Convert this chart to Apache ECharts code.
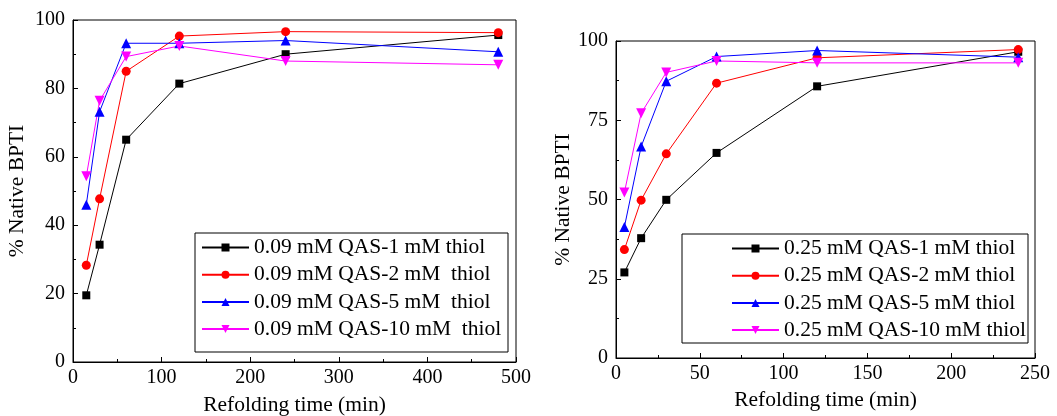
<!DOCTYPE html>
<html>
<head>
<meta charset="utf-8">
<script src="https://cdn.jsdelivr.net/npm/echarts@6/dist/echarts.min.js"></script>
<style>
  html, body { margin: 0; padding: 0; background: #fff; }
  #chart { width: 1057px; height: 416px; }
</style>
</head>
<body>
<div id="chart"></div>
<script>
  // 左图：0.09 mM QAS
  const timeA = [15, 30, 60, 120, 240, 480];
  const namesA = ['0.09 mM QAS-1 mM thiol', '0.09 mM QAS-2 mM  thiol', '0.09 mM QAS-5 mM  thiol', '0.09 mM QAS-10 mM  thiol'];
  const a1 = [19.5, 34.3, 65, 81.4, 90, 95.6];
  const a2 = [28.3, 47.7, 85, 95.3, 96.6, 96.3];
  const a5 = [46, 73.2, 93.2, 93.2, 94, 90.7];
  const a10 = [54.3, 76.4, 89.3, 92.4, 88, 86.9];

  // 右图：0.25 mM QAS
  const timeB = [5, 15, 30, 60, 120, 240];
  const namesB = ['0.25 mM QAS-1 mM thiol', '0.25 mM QAS-2 mM thiol', '0.25 mM QAS-5 mM thiol', '0.25 mM QAS-10 mM thiol'];
  const b1 = [27, 37.8, 49.9, 64.7, 85.7, 96.6];
  const b2 = [34.2, 49.8, 64.4, 86.7, 94.7, 97.3];
  const b5 = [41.3, 66.7, 87.3, 95.1, 97, 94.9];
  const b10 = [52.2, 77.2, 90.1, 93.7, 93.1, 93.1];

  const colors = ['#000000', '#ff0000', '#0000ff', '#ff00ff'];
  const symbols = ['rect', 'circle', 'triangle', 'path://M0,0 L10,0 L5,10 Z'];
  const sizes = [8, 9, 10, 10];
  const font = 'Liberation Serif, Times New Roman, serif';
  const titleSize = 21.5;

  const pair = (xs, ys) => xs.map((x, i) => [x, ys[i]]);

  function makeSeries(xs, sets, names, idx) {
    return sets.map((ys, i) => ({
      name: names[i],
      type: 'line',
      xAxisIndex: idx,
      yAxisIndex: idx,
      data: pair(xs, ys),
      symbol: symbols[i],
      symbolSize: sizes[i],
      color: colors[i],
      lineStyle: { width: 1, color: colors[i] },
      itemStyle: { color: colors[i] },
      animation: false,
    }));
  }

  function xAxis(idx, max, interval, gap) {
    return {
      type: 'value', gridIndex: idx, min: 0, max: max, interval: interval,
      name: 'Refolding time (min)', nameLocation: 'middle', nameGap: gap,
      nameTextStyle: { fontFamily: font, fontSize: titleSize, color: '#000' },
      axisLine: { show: true, lineStyle: { color: '#000', width: 1 } },
      axisTick: { inside: true, length: 5, lineStyle: { color: '#000' } },
      minorTick: { show: true, splitNumber: 2, length: 3, lineStyle: { color: '#000' } },
      axisLabel: { fontFamily: font, fontSize: 20, color: '#000', margin: 6 },
      splitLine: { show: false },
    };
  }

  function yAxis(idx, interval, gap) {
    return {
      type: 'value', gridIndex: idx, min: 0, max: 100, interval: interval,
      name: '% Native BPTI', nameLocation: 'middle', nameGap: gap,
      nameTextStyle: { fontFamily: font, fontSize: titleSize, color: '#000' },
      axisLine: { show: true, lineStyle: { color: '#000', width: 1 } },
      axisTick: { inside: true, length: 5, lineStyle: { color: '#000' } },
      minorTick: { show: true, splitNumber: 2, length: 3, lineStyle: { color: '#000' } },
      axisLabel: { fontFamily: font, fontSize: 20, color: '#000', margin: 8 },
      splitLine: { show: false },
    };
  }

  function legend(names, left, top) {
    return {
      data: names, orient: 'vertical', left: left, top: top,
      itemWidth: 47, itemHeight: 10, itemGap: 5.2,
      padding: 0,
      textStyle: { fontFamily: font, fontSize: titleSize, color: '#000' },
      selectedMode: false,
    };
  }

  // 图例外框
  function frame(x, y, w, h) {
    return {
      type: 'rect', left: x, top: y, z: 10,
      shape: { width: w, height: h },
      style: { fill: 'none', stroke: '#000', lineWidth: 1 },
    };
  }

  const chart = echarts.init(document.getElementById('chart'));
  chart.setOption({
    backgroundColor: '#fff',
    grid: [
      { left: 73, top: 20, width: 443, height: 342, show: true, borderColor: '#000', borderWidth: 1, outerBoundsMode: 'none' },
      { left: 616, top: 41, width: 419, height: 317, show: true, borderColor: '#000', borderWidth: 1, outerBoundsMode: 'none' },
    ],
    xAxis: [xAxis(0, 500, 100, 32.5), xAxis(1, 250, 50, 30.5)],
    yAxis: [yAxis(0, 20, 44.5), yAxis(1, 25, 35.5)],
    legend: [legend(namesA, 201, 236.5), legend(namesB, 731, 237.5)],
    graphic: [frame(192.5, 230.5, 313, 119), frame(679.5, 231.5, 346, 109)],
    series: [
      ...makeSeries(timeA, [a1, a2, a5, a10], namesA, 0),
      ...makeSeries(timeB, [b1, b2, b5, b10], namesB, 1),
    ],
  });
</script>
</body>
</html>
